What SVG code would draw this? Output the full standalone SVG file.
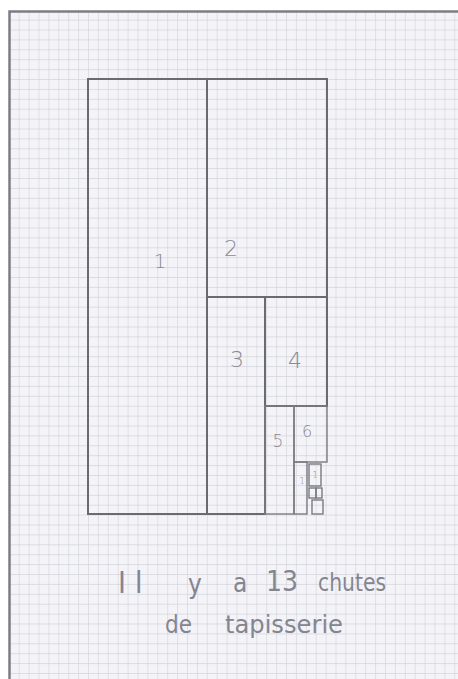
<svg xmlns="http://www.w3.org/2000/svg" width="458" height="679" viewBox="0 0 458 679">
<defs>
<pattern id="grid" patternUnits="userSpaceOnUse" x="88" y="79" width="9.9" height="9.9">
<rect width="9.9" height="9.9" fill="#f4f4f8"/>
<path d="M0 0H9.9M0 0V9.9" stroke="#d3d3dc" stroke-width="1.3" fill="none"/>
</pattern>
</defs>
<style>
.ln{stroke:#6a6a72;stroke-width:2;fill:none;stroke-linecap:square}
.thin{stroke:#7a7a82;stroke-width:1.4;fill:none}
.lab{font-family:"DejaVu Sans",sans-serif;font-weight:300;fill:#8a8a92;text-anchor:middle}
.hw{font-family:"DejaVu Sans Condensed","DejaVu Sans",sans-serif;font-weight:300;fill:#858590}
</style>
<rect width="458" height="679" fill="#ffffff"/>
<rect x="9" y="11" width="449" height="668" fill="url(#grid)"/>
<path d="M9.5 679V11.5H458" stroke="#7c7c84" stroke-width="2.5" fill="none"/>

<g id="piece1"><rect class="ln" x="88" y="79" width="119" height="435"/><text class="lab" x="160" y="268" font-size="20">1</text></g>
<g id="piece2"><rect class="ln" x="207" y="79" width="120" height="218"/><text class="lab" x="231" y="256" font-size="22">2</text></g>
<g id="piece3"><rect class="ln" x="207" y="297" width="58" height="217"/><text class="lab" x="237" y="367" font-size="22">3</text></g>
<g id="piece4"><rect class="ln" x="265" y="297" width="62" height="109"/><text class="lab" x="295" y="368" font-size="22">4</text></g>
<g id="piece5"><rect class="thin" x="265" y="406" width="29" height="108"/><text class="lab" x="278" y="447" font-size="17">5</text></g>
<g id="piece6"><rect class="thin" x="294" y="406" width="33" height="56"/><text class="lab" x="307" y="437" font-size="16">6</text></g>
<g id="piece7"><rect class="thin" x="294" y="462" width="13" height="52"/><text class="lab" x="302" y="484" font-size="9">1</text></g>
<g id="piece8"><rect class="thin" x="309" y="464" width="12" height="22"/><text class="lab" x="315" y="478" font-size="9">1</text></g>
<g id="piece9"><rect class="thin" x="309" y="488" width="7" height="10"/><rect class="thin" x="316" y="488" width="6" height="10"/><rect class="thin" x="312" y="500" width="11" height="14"/></g>

<g id="caption">
<text class="hw" x="118" y="593" font-size="30" letter-spacing="9">Il</text>
<text class="hw" x="188" y="593" font-size="26">y</text>
<text class="hw" x="233" y="592" font-size="26">a</text>
<text class="hw" x="266" y="591" font-size="28">13</text>
<text class="hw" x="318" y="591" font-size="24" textLength="68" lengthAdjust="spacingAndGlyphs">chutes</text>
<text class="hw" x="165" y="633" font-size="24" textLength="27" lengthAdjust="spacingAndGlyphs">de</text>
<text class="hw" x="225" y="633" font-size="24" textLength="118" lengthAdjust="spacingAndGlyphs">tapisserie</text>
</g>
</svg>
